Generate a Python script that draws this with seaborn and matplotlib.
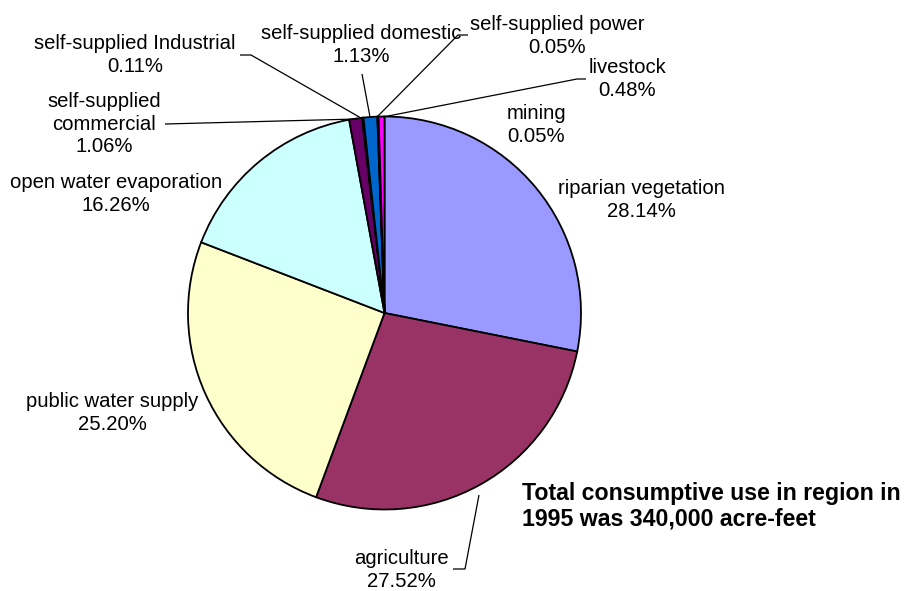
import os
import matplotlib
matplotlib.use("Agg")
import matplotlib.pyplot as plt
from matplotlib import font_manager
import seaborn as sns

sns.set_theme(style="white")
plt.rcParams['font.family'] = ['Liberation Sans', 'DejaVu Sans']

categories = ["riparian vegetation", "agriculture", "public water supply",
              "open water evaporation", "self-supplied\ncommercial",
              "self-supplied Industrial", "self-supplied domestic",
              "self-supplied power", "mining", "livestock"]
values = [28.14, 27.52, 25.20, 16.26, 1.06, 0.11, 1.13, 0.05, 0.05, 0.48]
colors = ["#9999FF", "#993366", "#FFFFCC", "#CCFFFF", "#660066",
          "#FF8080", "#0066CC", "#CCCCFF", "#000080", "#FF00FF"]

W, H = 906, 591
fig = plt.figure(figsize=(W / 100, H / 100), dpi=100)
ax = fig.add_axes([0, 0, 1, 1])

def P(x, y):
    return x, H - y

cx, cy = P(384.5, 313)
ax.pie(values, colors=colors, startangle=90, counterclock=False,
       center=(cx, cy), radius=196.5,
       wedgeprops=dict(edgecolor="black", linewidth=1.3))
ax.set_xlim(0, W)
ax.set_ylim(0, H)
ax.set_aspect("equal")
ax.axis("off")

label_pos = {
    "riparian vegetation": (641, 200),
    "agriculture": (401, 570),
    "public water supply": (112, 413),
    "open water evaporation": (116, 194),
    "self-supplied\ncommercial": (104, 124),
    "self-supplied Industrial": (135, 55),
    "self-supplied domestic": (361, 45),
    "self-supplied power": (557, 36),
    "mining": (536, 125),
    "livestock": (627, 79),
}
fs = 14.6
for cat, val in zip(categories, values):
    x, y = P(*label_pos[cat])
    ax.text(x, y, f"{cat}\n{val:.2f}%", ha="center", va="center",
            fontsize=fs, color="black", linespacing=1.22)

leaders = [
    [(240, 55), (251, 55), (361, 118)],
    [(165, 124), (357, 119)],
    [(362, 74), (370, 117)],
    [(468, 35), (458, 35), (377, 117)],
    [(586, 79), (577, 79), (383, 117)],
    [(479, 495), (465, 569), (453, 569)],
]
for pts in leaders:
    xs = [p[0] for p in pts]
    ys = [H - p[1] for p in pts]
    ax.plot(xs, ys, color="black", linewidth=0.9, solid_capstyle="butt")

bold_size = 16.7
bold_fp = None
for f in font_manager.fontManager.ttflist:
    if os.path.basename(f.fname).lower() == "liberationsans-bold.ttf":
        bold_fp = font_manager.FontProperties(fname=f.fname, size=bold_size)
        break
if bold_fp is None:
    bold_fp = font_manager.FontProperties(family="Liberation Sans", weight="bold",
                                          stretch="normal", size=bold_size)

ax.text(*P(522, 506), "Total consumptive use in region in\n1995 was 340,000 acre-feet",
        ha="left", va="center", fontproperties=bold_fp,
        color="black", linespacing=1.12)

fig.savefig("out.png", dpi=100)
